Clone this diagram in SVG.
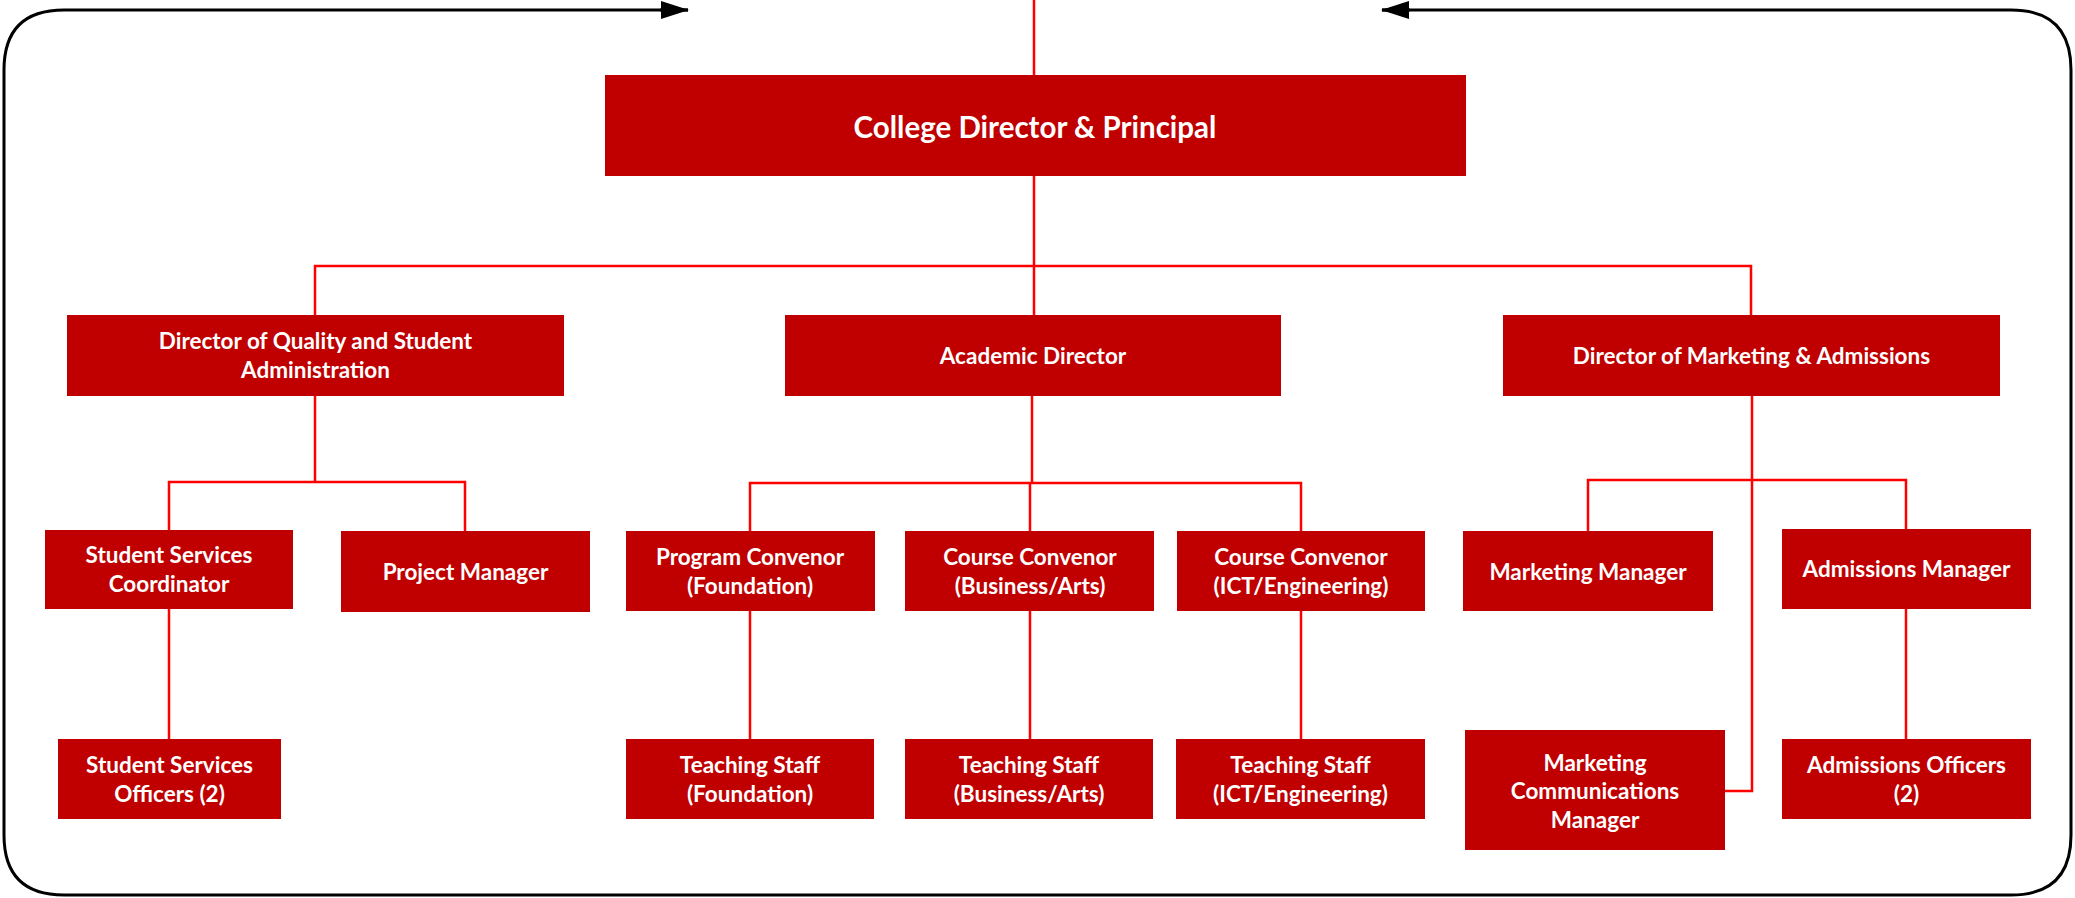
<svg xmlns="http://www.w3.org/2000/svg" width="2075" height="898" viewBox="0 0 2075 898">
<defs>
<marker id="arr" markerWidth="28" markerHeight="20" refX="27" refY="10" orient="auto" markerUnits="userSpaceOnUse">
<path d="M0,1 L28,10 L0,19 Z" fill="#000"/>
</marker>
<style>
.box{fill:#C00000;}
.t{font-family:Lato,"Liberation Sans",sans-serif;font-weight:bold;font-size:22.5px;fill:#fff;text-anchor:middle;}
.big{font-size:29.5px;}
.c{fill:none;stroke:#FF0000;stroke-width:2.5;}
.f{fill:none;stroke:#000;stroke-width:3;}
</style>
</defs>
<rect width="2075" height="898" fill="#fff"/>
<g id="frame">
<path class="f" d="M688,10 L64,10 Q4,10 4,70 L4,835 Q4,895 64,895 L2011,895 Q2071,895 2071,835 L2071,70 Q2071,10 2011,10 L1382,10" />
<line class="f" x1="660" y1="10" x2="688" y2="10" marker-end="url(#arr)"/>
<line class="f" x1="1410" y1="10" x2="1382" y2="10" marker-end="url(#arr)"/>
</g>
<g id="connectors">
<path class="c" d="M1034,0 L1034,75"/>
<path class="c" d="M1034,176 L1034,315"/>
<path class="c" d="M315,315 L315,266 L1751,266 L1751,315"/>
<path class="c" d="M315,396 L315,482"/>
<path class="c" d="M169,531 L169,482 L465,482 L465,531"/>
<path class="c" d="M169,609 L169,739"/>
<path class="c" d="M1032,396 L1032,483"/>
<path class="c" d="M750,531 L750,483 L1301,483 L1301,531"/>
<path class="c" d="M1030,483 L1030,531"/>
<path class="c" d="M750,611 L750,739"/>
<path class="c" d="M1030,611 L1030,739"/>
<path class="c" d="M1301,611 L1301,739"/>
<path class="c" d="M1752,396 L1752,791 L1725,791"/>
<path class="c" d="M1588,531 L1588,480 L1906,480 L1906,529"/>
<path class="c" d="M1906,609 L1906,739"/>
</g>
<g id="n-principal"><rect class="box" x="605" y="75" width="861" height="101"/><text class="t big" x="1035" y="138">College Director &amp; Principal</text></g>
<g id="n-dqsa"><rect class="box" x="67" y="315" width="497" height="81"/><text class="t" x="315.5" y="349">Director of Quality and Student</text><text class="t" x="315.5" y="378">Administration</text></g>
<g id="n-acad"><rect class="box" x="785" y="315" width="496" height="81"/><text class="t" x="1033" y="364">Academic Director</text></g>
<g id="n-dma"><rect class="box" x="1503" y="315" width="497" height="81"/><text class="t" x="1751.5" y="364">Director of Marketing &amp; Admissions</text></g>
<g id="n-ssc"><rect class="box" x="45" y="530" width="248" height="79"/><text class="t" x="169" y="563">Student Services</text><text class="t" x="169" y="592">Coordinator</text></g>
<g id="n-pm"><rect class="box" x="341" y="531" width="249" height="81"/><text class="t" x="465.5" y="580">Project Manager</text></g>
<g id="n-pcf"><rect class="box" x="626" y="531" width="249" height="80"/><text class="t" x="750" y="565">Program Convenor</text><text class="t" x="750" y="594">(Foundation)</text></g>
<g id="n-ccba"><rect class="box" x="905" y="531" width="249" height="80"/><text class="t" x="1030" y="565">Course Convenor</text><text class="t" x="1030" y="594">(Business/Arts)</text></g>
<g id="n-ccict"><rect class="box" x="1177" y="531" width="248" height="80"/><text class="t" x="1301" y="565">Course Convenor</text><text class="t" x="1301" y="594">(ICT/Engineering)</text></g>
<g id="n-mm"><rect class="box" x="1463" y="531" width="250" height="80"/><text class="t" x="1588" y="580">Marketing Manager</text></g>
<g id="n-am"><rect class="box" x="1782" y="529" width="249" height="80"/><text class="t" x="1906.5" y="577">Admissions Manager</text></g>
<g id="n-sso"><rect class="box" x="58" y="739" width="223" height="80"/><text class="t" x="169.5" y="773">Student Services</text><text class="t" x="169.5" y="802">Officers (2)</text></g>
<g id="n-tsf"><rect class="box" x="626" y="739" width="248" height="80"/><text class="t" x="750" y="773">Teaching Staff</text><text class="t" x="750" y="802">(Foundation)</text></g>
<g id="n-tsba"><rect class="box" x="905" y="739" width="248" height="80"/><text class="t" x="1029" y="773">Teaching Staff</text><text class="t" x="1029" y="802">(Business/Arts)</text></g>
<g id="n-tsict"><rect class="box" x="1176" y="739" width="249" height="80"/><text class="t" x="1300.5" y="773">Teaching Staff</text><text class="t" x="1300.5" y="802">(ICT/Engineering)</text></g>
<g id="n-mcm"><rect class="box" x="1465" y="730" width="260" height="120"/><text class="t" x="1595" y="771">Marketing</text><text class="t" x="1595" y="799">Communications</text><text class="t" x="1595" y="828">Manager</text></g>
<g id="n-ao"><rect class="box" x="1782" y="739" width="249" height="80"/><text class="t" x="1906.5" y="773">Admissions Officers</text><text class="t" x="1906.5" y="802">(2)</text></g>
</svg>
